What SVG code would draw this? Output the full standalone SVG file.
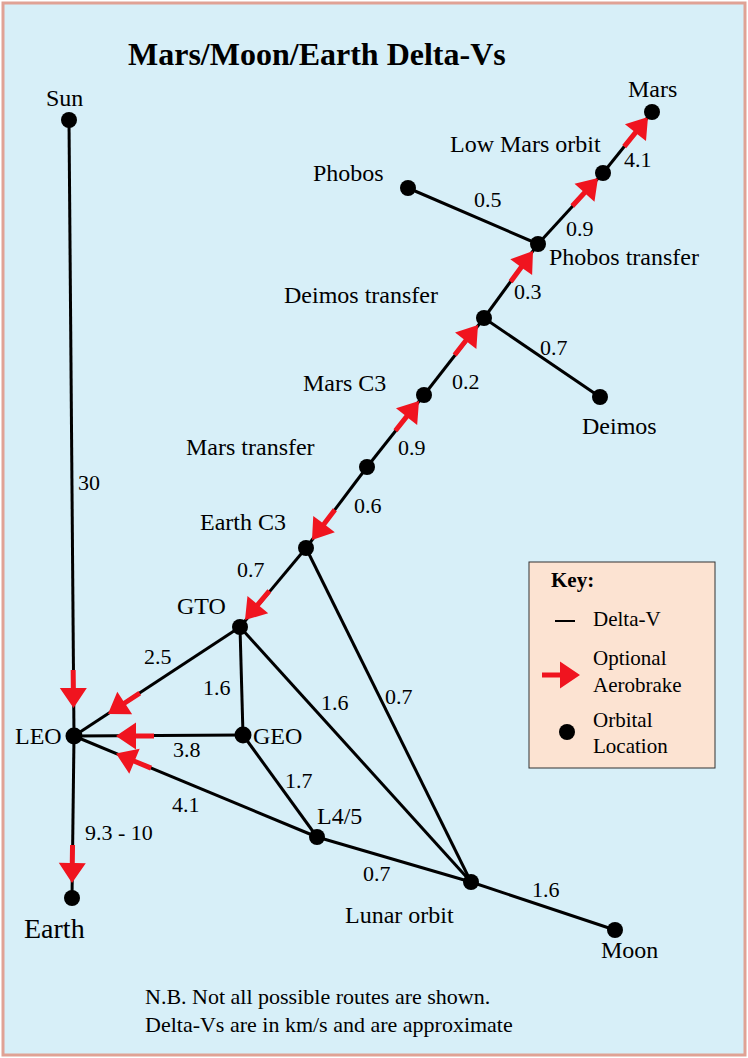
<svg xmlns="http://www.w3.org/2000/svg" xmlns:xlink="http://www.w3.org/1999/xlink" width="748" height="1058" viewBox="0 0 748 1058">
<style>
.bg{fill:#d7eff8;stroke:#e0a295;stroke-width:3}
.edge{stroke:#000;stroke-width:3;fill:none}
.dot{fill:#000}
.lbl{font-family:"Liberation Serif","Times New Roman",serif;font-size:24px;fill:#000}
.num{font-family:"Liberation Serif","Times New Roman",serif;font-size:22px;fill:#000}
.key{font-family:"Liberation Serif","Times New Roman",serif;font-size:21px;fill:#000}
.foot{font-family:"Liberation Serif","Times New Roman",serif;font-size:22px;fill:#000}
.title{font-family:"Liberation Serif","Times New Roman",serif;font-size:32px;font-weight:bold;fill:#000}
.aero{fill:#f0141f}
</style>
<defs>
<path id="arrow" d="M-38,-2.5 L-20,-2.5 L-20,-13.5 L0,0 L-20,13.5 L-20,2.5 L-38,2.5 Z"/>
</defs>
<rect class="bg" x="3" y="3" width="742" height="1052"/>
<text class="title" x="128" y="65">Mars/Moon/Earth Delta-Vs</text>

<g id="connectors">
<line class="edge" x1="69" y1="120" x2="74" y2="736"/>
<line class="edge" x1="74" y1="736" x2="72" y2="898"/>
<line class="edge" x1="74" y1="736" x2="240" y2="627"/>
<line class="edge" x1="74" y1="736" x2="243" y2="735"/>
<line class="edge" x1="74" y1="736" x2="317" y2="837"/>
<line class="edge" x1="240" y1="627" x2="243" y2="735"/>
<line class="edge" x1="240" y1="627" x2="471" y2="882"/>
<line class="edge" x1="240" y1="627" x2="306" y2="548"/>
<line class="edge" x1="243" y1="735" x2="317" y2="837"/>
<line class="edge" x1="317" y1="837" x2="471" y2="882"/>
<line class="edge" x1="306" y1="548" x2="471" y2="882"/>
<line class="edge" x1="471" y1="882" x2="615" y2="930"/>
<line class="edge" x1="306" y1="548" x2="367" y2="467"/>
<line class="edge" x1="367" y1="467" x2="424" y2="395"/>
<line class="edge" x1="424" y1="395" x2="484" y2="318"/>
<line class="edge" x1="484" y1="318" x2="600" y2="397"/>
<line class="edge" x1="484" y1="318" x2="538" y2="244"/>
<line class="edge" x1="538" y1="244" x2="408" y2="188"/>
<line class="edge" x1="538" y1="244" x2="603" y2="173"/>
<line class="edge" x1="603" y1="173" x2="652" y2="112"/>
<g class="aero">
<use xlink:href="#arrow" transform="translate(73.5,708) rotate(89.5)"/>
<use xlink:href="#arrow" transform="translate(72,883) rotate(90.8)"/>
<use xlink:href="#arrow" transform="translate(108,714) rotate(146.7)"/>
<use xlink:href="#arrow" transform="translate(116,736) rotate(180)"/>
<use xlink:href="#arrow" transform="translate(116,753.5) rotate(202.6)"/>
<use xlink:href="#arrow" transform="translate(312,540) rotate(127)"/>
<use xlink:href="#arrow" transform="translate(245,620) rotate(129.9)"/>
<use xlink:href="#arrow" transform="translate(419,401) rotate(-51.6)"/>
<use xlink:href="#arrow" transform="translate(478,325) rotate(-52.1)"/>
<use xlink:href="#arrow" transform="translate(533,251) rotate(-53.9)"/>
<use xlink:href="#arrow" transform="translate(598,178) rotate(-47.5)"/>
<use xlink:href="#arrow" transform="translate(648,117) rotate(-51.2)"/>
</g>
<text class="num" x="474" y="207">0.5</text>
<text class="num" x="566" y="236">0.9</text>
<text class="num" x="624" y="167">4.1</text>
<text class="num" x="514" y="299">0.3</text>
<text class="num" x="540" y="355">0.7</text>
<text class="num" x="452" y="389">0.2</text>
<text class="num" x="398" y="455">0.9</text>
<text class="num" x="78" y="490">30</text>
<text class="num" x="354" y="513">0.6</text>
<text class="num" x="237" y="577">0.7</text>
<text class="num" x="144" y="664">2.5</text>
<text class="num" x="203" y="695">1.6</text>
<text class="num" x="321" y="710">1.6</text>
<text class="num" x="385" y="704">0.7</text>
<text class="num" x="173" y="757">3.8</text>
<text class="num" x="285" y="788">1.7</text>
<text class="num" x="172" y="812">4.1</text>
<text class="num" x="85" y="840">9.3 - 10</text>
<text class="num" x="363" y="881">0.7</text>
<text class="num" x="532" y="897">1.6</text>
</g>

<g id="node-sun"><circle class="dot" cx="69" cy="120" r="8"/><text class="lbl" x="46" y="106">Sun</text></g>
<g id="node-leo"><circle class="dot" cx="74" cy="736" r="8.5"/><text class="lbl" x="15" y="744">LEO</text></g>
<g id="node-earth"><circle class="dot" cx="72" cy="898" r="8"/><text class="lbl" x="24" y="938" style="font-size:28px">Earth</text></g>
<g id="node-gto"><circle class="dot" cx="240" cy="627" r="8"/><text class="lbl" x="177" y="614">GTO</text></g>
<g id="node-geo"><circle class="dot" cx="243" cy="735" r="8.5"/><text class="lbl" x="253" y="744">GEO</text></g>
<g id="node-l45"><circle class="dot" cx="317" cy="837" r="8"/><text class="lbl" x="317" y="824">L4/5</text></g>
<g id="node-lunar"><circle class="dot" cx="471" cy="882" r="8"/><text class="lbl" x="345" y="923">Lunar orbit</text></g>
<g id="node-moon"><circle class="dot" cx="615" cy="930" r="8"/><text class="lbl" x="601" y="958">Moon</text></g>
<g id="node-earthc3"><circle class="dot" cx="306" cy="548" r="8"/><text class="lbl" x="200" y="530">Earth C3</text></g>
<g id="node-marstransfer"><circle class="dot" cx="367" cy="467" r="8"/><text class="lbl" x="186" y="455">Mars transfer</text></g>
<g id="node-marsc3"><circle class="dot" cx="424" cy="395" r="8"/><text class="lbl" x="303" y="391">Mars C3</text></g>
<g id="node-deimostransfer"><circle class="dot" cx="484" cy="318" r="8"/><text class="lbl" x="284" y="303">Deimos transfer</text></g>
<g id="node-deimos"><circle class="dot" cx="600" cy="397" r="8"/><text class="lbl" x="582" y="434">Deimos</text></g>
<g id="node-phobostransfer"><circle class="dot" cx="538" cy="244" r="8"/><text class="lbl" x="549" y="265">Phobos transfer</text></g>
<g id="node-phobos"><circle class="dot" cx="408" cy="188" r="8"/><text class="lbl" x="313" y="181">Phobos</text></g>
<g id="node-lmo"><circle class="dot" cx="603" cy="173" r="8"/><text class="lbl" x="450" y="152">Low Mars orbit</text></g>
<g id="node-mars"><circle class="dot" cx="652" cy="112" r="8"/><text class="lbl" x="628" y="97">Mars</text></g>

<g id="key">
<rect x="529" y="562" width="186" height="206" fill="#fce3d2" stroke="#333" stroke-width="1"/>
<text class="key" x="551" y="587" style="font-weight:bold">Key:</text>
<line x1="555" y1="621" x2="575" y2="621" stroke="#000" stroke-width="2"/>
<text class="key" x="593" y="626">Delta-V</text>
<use xlink:href="#arrow" class="aero" transform="translate(580,675)"/>
<text class="key" x="593" y="665">Optional</text>
<text class="key" x="593" y="692">Aerobrake</text>
<circle class="dot" cx="567" cy="732" r="8"/>
<text class="key" x="593" y="727">Orbital</text>
<text class="key" x="593" y="753">Location</text>
</g>

<text class="foot" x="145" y="1004">N.B. Not all possible routes are shown.</text>
<text class="foot" x="145" y="1032">Delta-Vs are in km/s and are approximate</text>
</svg>
